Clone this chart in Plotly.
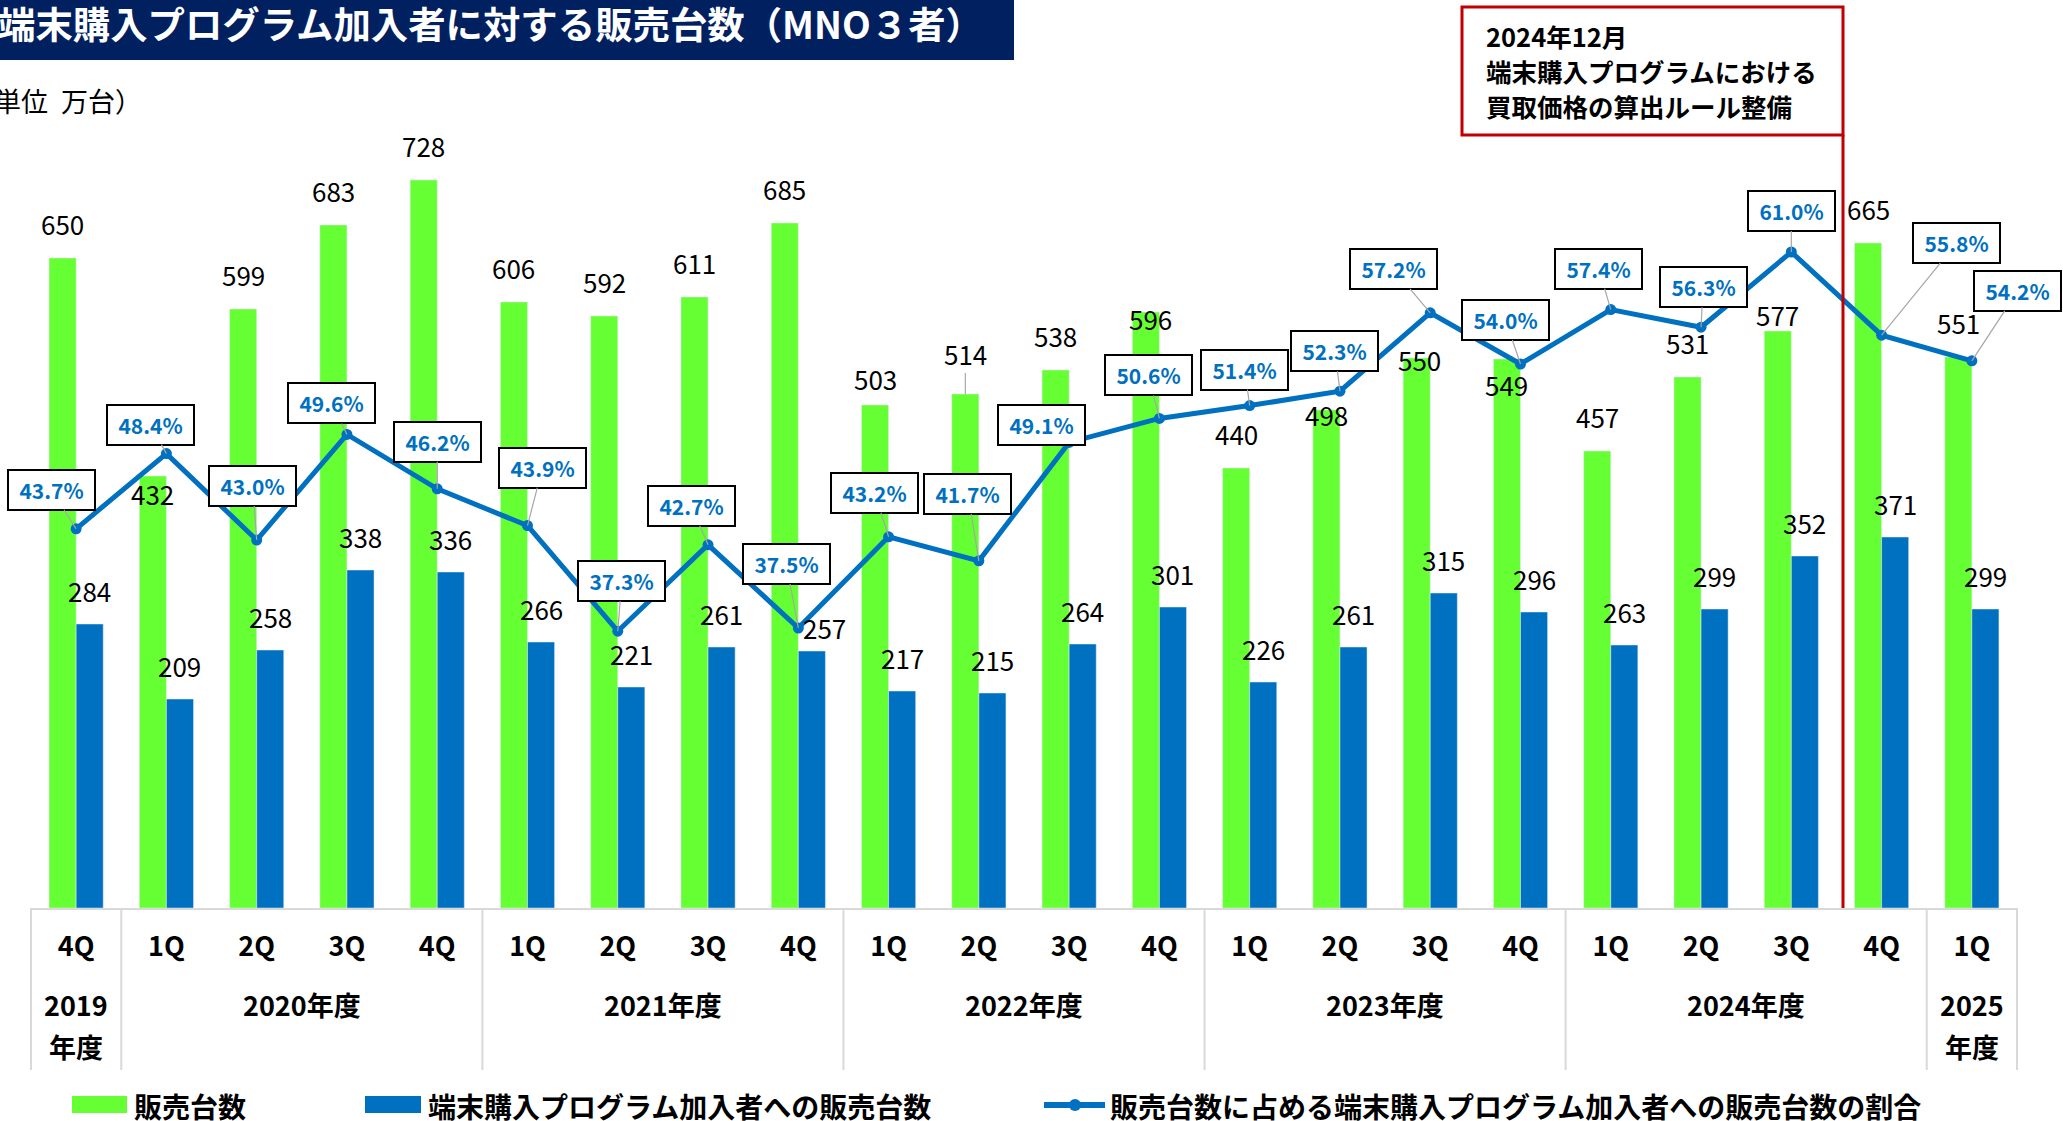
import plotly.graph_objects as go

# ---------------- data ----------------
quarters = ["4Q", "1Q", "2Q", "3Q", "4Q", "1Q", "2Q", "3Q", "4Q", "1Q", "2Q", "3Q", "4Q",
            "1Q", "2Q", "3Q", "4Q", "1Q", "2Q", "3Q", "4Q", "1Q"]
fiscal_years = ["2019"] + ["2020"] * 4 + ["2021"] * 4 + ["2022"] * 4 + ["2023"] * 4 + ["2024"] * 4 + ["2025"]
sales = [650, 432, 599, 683, 728, 606, 592, 611, 685, 503, 514, 538, 596, 440, 498, 550, 549, 457,
         531, 577, 665, 551]
program_sales = [284, 209, 258, 338, 336, 266, 221, 261, 257, 217, 215, 264, 301, 226, 261, 315,
                 296, 263, 299, 352, 371, 299]
program_share = [43.7, 48.4, 43.0, 49.6, 46.2, 43.9, 37.3, 42.7, 37.5, 43.2, 41.7, 49.1, 50.6, 51.4,
                 52.3, 57.2, 54.0, 57.4, 56.3, 61.0, 55.8, 54.2]

series_names = ["販売台数", "端末購入プログラム加入者への販売台数",
                "販売台数に占める端末購入プログラム加入者への販売台数の割合"]
title_text = "端末購入プログラム加入者に対する販売台数（MNO３者）"
unit_parts = ["（単位", "万台）"]
note_lines = ["2024年12月", "端末購入プログラムにおける", "買取価格の算出ルール整備"]

# ---------------- label placement tweaks (pixels) ----------------
green_label_adjust = {1: (0, 52), 9: (0, 8), 10: (0, -6), 12: (5, 41), 14: (0, 39),
                      15: (3, 36), 16: (0, 60), 19: (0, 18)}
blue_label_adjust = {8: (13, 10)}
pct_box_offsets = [(-25, -39), (-16, -29), (-4, -54), (-15, -31), (0, -47), (15, -58), (4, -50),
                   (-17, -39), (-12, -64), (-14, -44), (-11, -67), (-28, -17), (-11, -43), (-5, -36),
                   (-5, -40), (-37, -44), (-15, -44), (-12, -41), (2, -40), (0, -41), (75, -92),
                   (46, -70)]

# ---------------- styles / geometry ----------------
GREEN = "#66FF33"
BLUE = "#0070C0"
NAVY = "#002060"
RED = "#C00000"
GRID = "#D9D9D9"
FONT = "Noto Sans CJK JP, Noto Sans, sans-serif"

W, H = 2063, 1121
ML, MR, MT, MB = 31, 46, 108, 213
PW, PH = W - ML - MR, H - MT - MB
BASE = H - MB
BARGAP = 0.4
LABEL_LIFT = 35
ncat = len(quarters)
cat_px = PW / ncat
half_bar = (1 - BARGAP) * cat_px / 4  # offset of each bar centre from category centre


def px(x):
    return (x - ML) / PW


def py(y):
    return (BASE - y) / PH


cats = [f"{y}年度 {q}" for y, q in zip(fiscal_years, quarters)]

fig = go.Figure()
fig.add_trace(go.Bar(x=cats, y=sales, name=series_names[0], marker_color=GREEN, showlegend=False))
fig.add_trace(go.Bar(x=cats, y=program_sales, name=series_names[1], marker_color=BLUE, showlegend=False))
fig.add_trace(go.Scatter(x=cats, y=program_share, name=series_names[2], yaxis="y2",
                         mode="lines+markers", line=dict(color=BLUE, width=5),
                         marker=dict(color=BLUE, size=11), showlegend=False))

ann = []
shapes = []

# bar value labels
for i, c in enumerate(cats):
    dx, dy = green_label_adjust.get(i, (0, 0))
    a = dict(x=c, y=sales[i], xref="x", yref="y", text=str(sales[i]),
             font=dict(family=FONT, size=26, color="black"),
             xshift=-half_bar + dx, yshift=LABEL_LIFT - dy, showarrow=False, yanchor="middle")
    if i == 10:
        a.update(showarrow=True, ax=0, ay=-(LABEL_LIFT - dy), arrowhead=0, arrowwidth=1.2,
                 arrowcolor="#A6A6A6", yshift=0, xshift=-half_bar)
    ann.append(a)
    dx, dy = blue_label_adjust.get(i, (0, 0))
    ann.append(dict(x=c, y=program_sales[i], xref="x", yref="y", text=str(program_sales[i]),
                    font=dict(family=FONT, size=26, color="black"),
                    xshift=half_bar + dx, yshift=LABEL_LIFT - 1 - dy, showarrow=False,
                    yanchor="middle"))

# percentage call-out boxes
for i, c in enumerate(cats):
    ax_, ay_ = pct_box_offsets[i]
    ann.append(dict(x=c, y=program_share[i], xref="x", yref="y2", text=f"{program_share[i]:.1f}%",
                    font=dict(family=FONT, size=21, color=BLUE, weight="bold"),
                    showarrow=True, ax=ax_, ay=ay_, arrowhead=0, arrowwidth=1.2,
                    arrowcolor="#A6A6A6", standoff=0,
                    bgcolor="white", bordercolor="black", borderwidth=2, borderpad=1,
                    width=83, height=36))

# year groups (table below axis)
groups = []
for i, y in enumerate(fiscal_years):
    if groups and groups[-1][0] == y:
        groups[-1][2] += 1
    else:
        groups.append([y, i, 1])
year_font = dict(family=FONT, size=27, color="black", weight="bold")
for y, start, n in groups:
    xc = start + (n - 1) / 2
    if n == 1:
        ann.append(dict(x=xc, y=py(1004), xref="x", yref="paper", text=y, font=year_font,
                        showarrow=False, yanchor="middle", xanchor="center"))
        ann.append(dict(x=xc, y=py(1046), xref="x", yref="paper", text="年度", font=year_font,
                        showarrow=False, yanchor="middle", xanchor="center"))
    else:
        ann.append(dict(x=xc, y=py(1004), xref="x", yref="paper", text=f"{y}年度", font=year_font,
                        showarrow=False, yanchor="middle", xanchor="center"))
    xb = ML + start * cat_px
    shapes.append(dict(type="line", xref="paper", yref="paper", x0=px(xb), x1=px(xb),
                       y0=py(BASE), y1=py(1070), line=dict(color=GRID, width=2)))
shapes.append(dict(type="line", xref="paper", yref="paper", x0=1, x1=1,
                   y0=py(BASE), y1=py(1070), line=dict(color=GRID, width=2)))

# title bar
shapes.append(dict(type="rect", xref="paper", yref="paper", x0=px(-5), x1=px(1014),
                   y0=py(60), y1=py(-5), fillcolor=NAVY, line=dict(width=0), layer="below"))
ann.append(dict(x=px(-4), y=py(23), xref="paper", yref="paper", text=title_text,
                font=dict(family=FONT, size=37.4, color="white", weight="bold"),
                showarrow=False, xanchor="left", yanchor="middle"))
for xl, t in zip([-35, 59], unit_parts):
    ann.append(dict(x=px(xl), y=py(101), xref="paper", yref="paper", text=t,
                    font=dict(family=FONT, size=27, color="black"),
                    showarrow=False, xanchor="left", yanchor="middle"))

# red note box and divider line
shapes.append(dict(type="rect", xref="paper", yref="paper", x0=px(1462), x1=px(1843),
                   y0=py(135), y1=py(7), line=dict(color=RED, width=3)))
shapes.append(dict(type="line", xref="paper", yref="paper", x0=px(1843), x1=px(1843),
                   y0=py(135), y1=py(BASE), line=dict(color=RED, width=3)))
for k, t in enumerate(note_lines):
    ann.append(dict(x=px(1484), y=py(36 + 34.5 * k), xref="paper", yref="paper", text=t,
                    font=dict(family=FONT, size=25.5, color="black", weight="bold"),
                    showarrow=False, xanchor="left", yanchor="middle"))

# custom legend
LY = 1105
shapes.append(dict(type="rect", xref="paper", yref="paper", x0=px(72), x1=px(127),
                   y0=py(LY + 8), y1=py(LY - 9), fillcolor=GREEN, line=dict(width=0)))
shapes.append(dict(type="rect", xref="paper", yref="paper", x0=px(365), x1=px(421),
                   y0=py(LY + 8), y1=py(LY - 9), fillcolor=BLUE, line=dict(width=0)))
shapes.append(dict(type="line", xref="paper", yref="paper", x0=px(1044), x1=px(1105),
                   y0=py(LY), y1=py(LY), line=dict(color=BLUE, width=6)))
shapes.append(dict(type="circle", xref="paper", yref="paper", x0=px(1069), x1=px(1081),
                   y0=py(LY + 6), y1=py(LY - 6), fillcolor=BLUE, line=dict(width=0)))
for xl, name in zip([132, 426, 1108], series_names):
    ann.append(dict(x=px(xl), y=py(LY + 1), xref="paper", yref="paper", text=name,
                    font=dict(family=FONT, size=28, color="black", weight="bold"),
                    showarrow=False, xanchor="left", yanchor="middle"))

fig.update_layout(
    width=W, height=H,
    margin=dict(l=ML, r=MR, t=MT, b=MB, pad=0),
    paper_bgcolor="white", plot_bgcolor="white",
    barmode="group", bargap=BARGAP, bargroupgap=0,
    font=dict(family=FONT, color="black"),
    xaxis=dict(type="category", tickvals=cats, ticktext=quarters, range=[-0.5, ncat - 0.5],
               tickfont=dict(family=FONT, size=27, color="black", weight="bold"),
               showline=True, linecolor=GRID, linewidth=2, showgrid=False, ticks="",
               ticklabelstandoff=14, zeroline=False),
    yaxis=dict(range=[0, 800], visible=False, showgrid=False, zeroline=False),
    yaxis2=dict(range=[20, 70], overlaying="y", side="right", visible=False, showgrid=False,
                zeroline=False),
    annotations=ann,
    shapes=shapes,
    showlegend=False,
)

fig.write_html(
    "out.html",
    config={"displayModeBar": False},
    post_script="document.body.style.margin='0';document.body.style.overflow='hidden';",
)
